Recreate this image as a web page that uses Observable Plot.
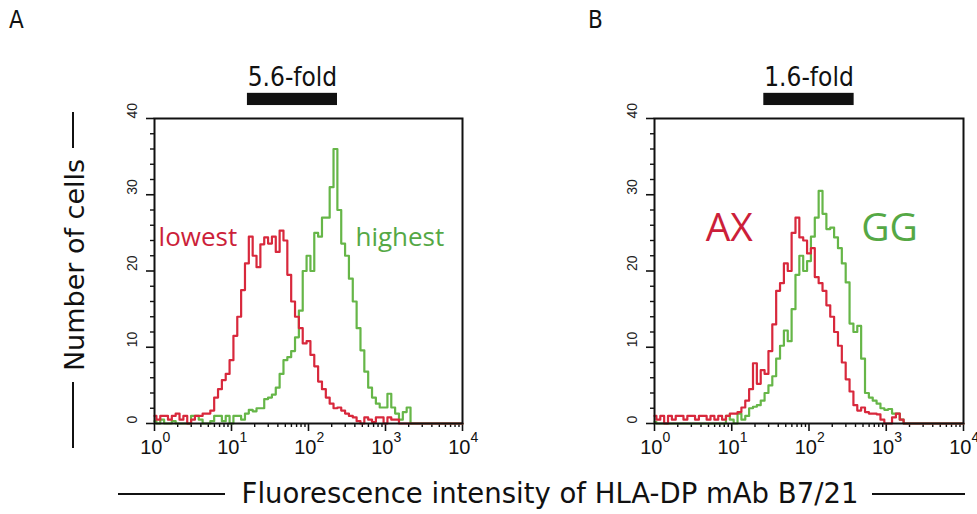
<!DOCTYPE html>
<html><head><meta charset="utf-8">
<script src="https://cdn.jsdelivr.net/npm/d3@7"></script>
<script src="https://cdn.jsdelivr.net/npm/@observablehq/plot@0.6"></script>
<style>
body{margin:0;background:#fff}
#root{position:relative;width:977px;height:514px;overflow:hidden;background:#fff;font-family:"DejaVu Sans",sans-serif;color:#111}
.abs{position:absolute}
.line{position:absolute;background:#111}
</style></head><body><div id="root"></div>
<script>
// channel positions (log10 of fluorescence intensity), 0.05 decade per channel
const channelLog = d3.range(0, 81).map(k => k * 0.05);

// Panel A: lowest (red) vs highest (green)
const redA = [1,0.5,1,1,0.5,1,1.3,0.5,1,0,0.5,1,1,1.3,1.3,
  1.7,3.4,4.5,5.7,6.5,8.3,11.5,14,17.5,21,24.5,22,20.5,23.5,24.4,23.6,24.5,22.5,25.3,24,19.5,16,14,12.5,10.5,10.8,9,7.5,5.5,4.5,3.4,2.6,2,2.1,1.7,1.3,1,0.8,0.3,0,0.8,0.5,0.2,0.8,0.8,0,0.8,0.5,0.5,
  0,0,0,0,0,0,0,0,0,0,0,0,0,0,0,0,0];
const greenA = [0.3,0,0.5,0,0,0.3,0,0,0,0,
  1,1,0.5,0,0,0.3,1,1,0.3,1,0,1,1,0.5,1.3,1.8,1.6,2,2,3.2,3.4,3.8,4.7,6.5,8.3,8.7,9.5,11.3,14.8,20,22,20,25,24.5,27,27,31,36,28,23.6,22,19,16,12.5,9.6,6.8,4.7,3.4,2.6,2.1,2.1,3.9,2.1,1.3,0.5,1.5,2.1,
  0,0,0,0,0,0,0,0,0,0,0,0,0,0];
// Panel B: AX (red) vs GG (green)
const redB = [1,0.5,1,0,1,0.5,1,1,0.5,1,1,0.5,1,1,0.5,1,0.5,1,0.5,1,
  1.3,1.3,1.5,2.1,3,4.5,7.9,5.2,7,6.5,9.5,13,17.4,18.4,21,20,25,27,24.4,24,22.3,23,19.2,18.4,17.4,15.5,14,12,10.2,8,5.8,4.2,2.4,1.7,2.1,1.5,1.3,1.3,1.2,0.5,0,0,0.8,1.3,0.5,
  0,0,0,0,0,0,0,0,0,0,0,0,0,0,0,0];
const greenB = [0.2,0,0,0,0,0,0,0,0,0,0,0,0,0,0,0,0,0,0,
  1,0.5,0,1.3,0.5,1,2,2.2,2.4,3,4,5,6.2,8.5,10.2,12.2,10.8,15,19.5,22,20,21.3,24.5,27,30.5,27.5,25.5,25.7,24.4,23,21,18.5,13.1,12,12.8,8.5,4,3.4,3,2.6,2,1.8,1.9,1.3,1.3,0.5,
  0,0,0,0,0,0,0,0,0,0,0,0,0,0,0,0];

const yMajor = [0, 10, 20, 30, 40];
const yMinor = [2,4,6,8,12,14,16,18,22,24,26,28,32,34,36,38];
const decades = [0, 1, 2, 3, 4];
const xMinorMult = [2,3,4,5,6,7,8,9];

const foldText = ["5.6-fold", "1.6-fold"];
const foldRange = [[16.1, 238], [26, 384]];
const seriesNames = [["lowest", "highest"], ["AX", "GG"]];

const RED = "#d8283c", GREEN = "#66b648";
const RED_T = "#cc1f3a", GREEN_T = "#55a845";

function toRows(arr) { return channelLog.map((L, i) => ({x: Math.pow(10, L), y: arr[i]})); }

const xMinorTicks = decades.slice(0, 4).flatMap(d => xMinorMult.map(m => m * Math.pow(10, d)));

function panel(idx, red, green, labelCfg, left, width, mr) {
  const [x1, x2] = foldRange[idx];
  const chart = Plot.plot({
    width, height: 514,
    marginLeft: 154, marginRight: mr, marginTop: 118, marginBottom: 91,
    x: {type: "log", domain: [1, 1e4], axis: null},
    y: {domain: [0, 40], axis: null},
    style: {background: "transparent", overflow: "visible"},
    marks: [
      Plot.axisX({ticks: decades.map(d => Math.pow(10, d)), tickSize: 8, tickFormat: () => "", label: null, strokeWidth: 1.6}),
      Plot.axisX({ticks: xMinorTicks, tickSize: 4, tickFormat: () => "", label: null, strokeWidth: 1.4}),
      Plot.axisY({ticks: yMajor, tickSize: 8, tickFormat: () => "", label: null, strokeWidth: 1.6}),
      Plot.axisY({ticks: yMinor, tickSize: 4, tickFormat: () => "", label: null, strokeWidth: 1.4}),
      Plot.text(yMajor, {y: d => d, text: d => String(d), frameAnchor: "left", dx: -22, rotate: -90,
        fontSize: 14, fontFamily: "Liberation Sans", fill: "#222"}),
      Plot.text(decades, {x: d => Math.pow(10, d), text: () => "10", frameAnchor: "bottom", dy: 30,
        textAnchor: "end", dx: 8, fontSize: 20, fontFamily: "Liberation Sans", fill: "#111"}),
      Plot.text(decades, {x: d => Math.pow(10, d), text: d => String(d), frameAnchor: "bottom", dy: 18,
        textAnchor: "start", dx: 8, fontSize: 14, fontFamily: "Liberation Sans", fill: "#111"}),
      Plot.line(toRows(green), {x: "x", y: "y", curve: "step", stroke: GREEN, strokeWidth: 2.2}),
      Plot.line(toRows(red), {x: "x", y: "y", curve: "step", stroke: RED, strokeWidth: 2.2}),
      Plot.frame({stroke: "#111", strokeWidth: 2}),
      Plot.rect([{x1, x2}], {x1: "x1", x2: "x2", y1: 41.7, y2: 43.3, fill: "#111"}),
      Plot.text([foldText[idx]], {x: Math.sqrt(x1 * x2), y: 45.4, text: d => d, fontSize: 26,
        fontFamily: "DejaVu Sans Condensed", fill: "#111"}),
      Plot.text(labelCfg, {x: "x", y: "y", text: "text", fill: "color", fontSize: labelCfg[0].size,
        textAnchor: "start", fontFamily: "Open Sans"})
    ]
  });
  chart.style.position = "absolute";
  chart.style.left = left + "px";
  chart.style.top = "0px";
  return chart;
}

const root = document.getElementById("root");
root.appendChild(panel(0, redA, greenA, [
  {text: seriesNames[0][0], x: 1.13, y: 24.4, color: RED_T, size: 26},
  {text: seriesNames[0][1], x: 407, y: 24.4, color: GREEN_T, size: 26}
], 0, 490, 28));
root.appendChild(panel(1, redB, greenB, [
  {text: seriesNames[1][0], x: 4.6, y: 25.6, color: RED_T, size: 39},
  {text: seriesNames[1][1], x: 473, y: 25.6, color: GREEN_T, size: 39}
], 500, 477, 14));

function addDiv(html, css, cls) {
  const d = document.createElement("div");
  d.className = cls || "abs";
  d.innerHTML = html;
  Object.assign(d.style, css);
  root.appendChild(d);
  return d;
}
addDiv("A", {left: "9px", top: "6px", fontSize: "24px", fontFamily: "DejaVu Sans Condensed"});
addDiv("B", {left: "588px", top: "6px", fontSize: "24px", fontFamily: "DejaVu Sans Condensed"});
// x axis title
addDiv("Fluorescence intensity of HLA-DP mAb B7/21", {left: "550px", top: "477px", fontSize: "27.5px",
  transform: "translateX(-50%)", whiteSpace: "nowrap", lineHeight: "32px"});
addDiv("", {left: "118px", top: "493px", width: "107px", height: "2px"}, "line");
addDiv("", {left: "872px", top: "493px", width: "93px", height: "2px"}, "line");
// y axis title
addDiv("Number of cells", {left: "75px", top: "265px", fontSize: "27px", whiteSpace: "nowrap", lineHeight: "32px",
  transform: "translate(-50%,-50%) rotate(-90deg)"});
addDiv("", {left: "72px", top: "112px", width: "2px", height: "36px"}, "line");
addDiv("", {left: "72px", top: "382px", width: "2px", height: "66px"}, "line");
</script></body></html>
